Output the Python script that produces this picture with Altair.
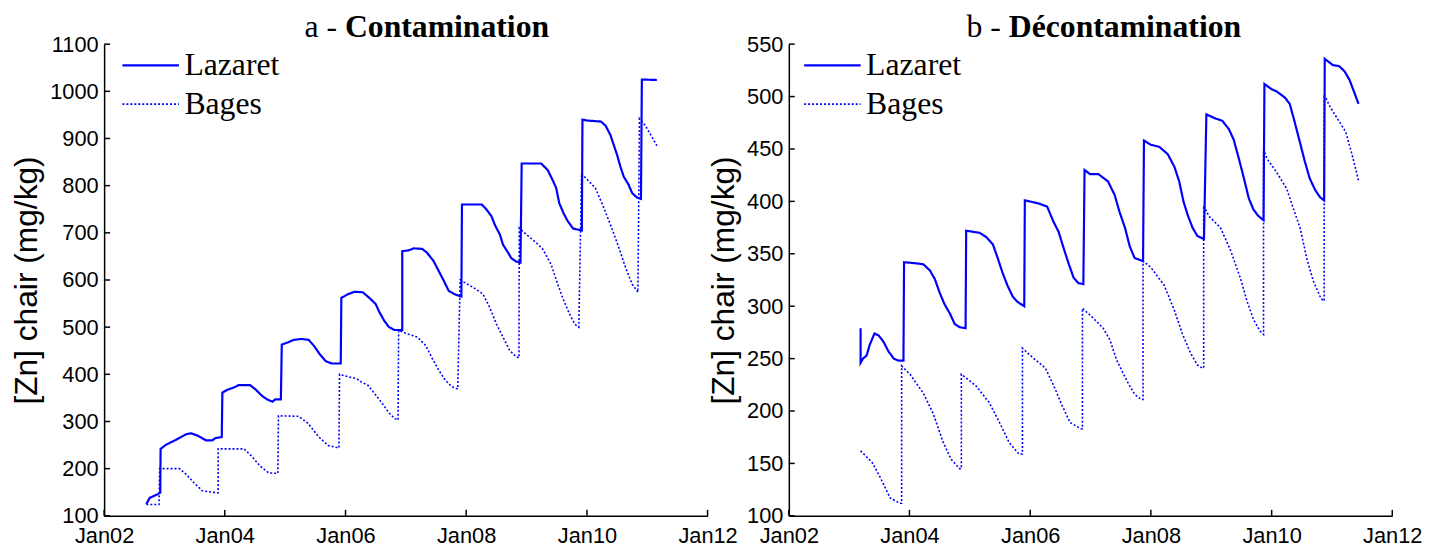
import altair as alt
import pandas as pd

# ---------------- data (decimal years, mg/kg) ----------------
series_names = ["Lazaret", "Bages"]
panel_prefix = ["a -", "b -"]
panel_bold = ["Contamination", "Décontamination"]
y_label = "[Zn] chair (mg/kg)"
x_tick_years = [2002, 2004, 2006, 2008, 2010, 2012]
y_ticks_a = [100, 200, 300, 400, 500, 600, 700, 800, 900, 1000, 1100]
y_ticks_b = [100, 150, 200, 250, 300, 350, 400, 450, 500, 550]

# Panel a - Contamination, Lazaret
lz_a_t = [2002.70, 2002.755, 2002.89, 2002.93, 2002.936, 2003.03, 2003.19, 2003.36, 2003.44,
          2003.55, 2003.69, 2003.79, 2003.85, 2003.95, 2003.96, 2004.04, 2004.15, 2004.23,
          2004.42, 2004.51, 2004.62, 2004.70, 2004.79, 2004.84, 2004.93, 2004.945, 2005.05,
          2005.14, 2005.27, 2005.39, 2005.49, 2005.57, 2005.67, 2005.77, 2005.92, 2005.93,
          2006.04, 2006.15, 2006.285, 2006.395, 2006.50, 2006.56, 2006.64, 2006.72, 2006.81,
          2006.94, 2006.94, 2007.05, 2007.13, 2007.27, 2007.35, 2007.46, 2007.545, 2007.63,
          2007.71, 2007.82, 2007.92, 2007.93, 2008.26, 2008.34, 2008.42, 2008.475, 2008.56,
          2008.61, 2008.695, 2008.75, 2008.83, 2008.90, 2008.92, 2009.24, 2009.35, 2009.43,
          2009.49, 2009.54, 2009.61, 2009.68, 2009.77, 2009.915, 2009.925, 2010.01, 2010.23,
          2010.31, 2010.39, 2010.445, 2010.50, 2010.555, 2010.61, 2010.69, 2010.75, 2010.83,
          2010.895, 2010.91, 2011.16]
lz_a_v = [125, 138, 146, 149, 242, 251, 261, 273, 275,
          270, 260, 260, 265, 267, 361, 367, 372, 377,
          377, 368, 354, 347, 342, 347, 347, 463, 468,
          473, 475, 473, 458, 443, 428, 423, 423, 562,
          570, 575, 574, 562, 549, 532, 514, 500, 494,
          494, 661, 663, 667, 666, 658, 640, 619, 598,
          577, 569, 565, 760, 760, 749, 735, 717, 696,
          675, 658, 646, 639, 637, 847, 847, 833, 812,
          795, 763, 742, 725, 709, 705, 940, 938, 936,
          927, 907, 886, 865, 840, 819, 802, 784, 775,
          772, 1025, 1024]

# Panel a - Contamination, Bages
bg_a_t = [2002.70, 2002.91, 2002.92, 2003.25, 2003.36, 2003.49, 2003.63, 2003.85, 2003.89,
          2003.89, 2004.32, 2004.45, 2004.59, 2004.73, 2004.88, 2004.89, 2005.22, 2005.38,
          2005.55, 2005.71, 2005.89, 2005.90, 2006.04, 2006.18, 2006.26, 2006.37, 2006.50,
          2006.61, 2006.72, 2006.82, 2006.87, 2006.88, 2007.02, 2007.19, 2007.33, 2007.44,
          2007.545, 2007.65, 2007.76, 2007.86, 2007.90, 2008.12, 2008.28, 2008.39, 2008.50,
          2008.61, 2008.72, 2008.83, 2008.875, 2008.88, 2009.00, 2009.16, 2009.27, 2009.405,
          2009.515, 2009.61, 2009.71, 2009.80, 2009.865, 2009.91, 2009.98, 2010.14, 2010.28,
          2010.42, 2010.53, 2010.64, 2010.75, 2010.845, 2010.87, 2010.97, 2011.16]
bg_a_v = [124, 124, 200, 200, 188, 170, 153, 149, 149,
          242, 242, 226, 205, 191, 190, 312, 311, 296,
          268, 249, 244, 400, 395, 391, 384, 377, 356,
          338, 318, 306, 303, 493, 486, 479, 461, 433,
          409, 388, 374, 369, 600, 584, 570, 542, 507,
          479, 451, 437, 435, 710, 696, 679, 665, 633,
          591, 558, 528, 506, 500, 826, 816, 795, 753,
          707, 668, 626, 591, 574, 942, 927, 885]

# Panel b - Decontamination, Lazaret
lz_b_t = [2003.19, 2003.19, 2003.23, 2003.29, 2003.34, 2003.42, 2003.49, 2003.57, 2003.65,
          2003.74, 2003.82, 2003.90, 2003.91, 2004.09, 2004.23, 2004.34, 2004.42, 2004.50,
          2004.58, 2004.67, 2004.75, 2004.83, 2004.93, 2004.94, 2005.16, 2005.27, 2005.38,
          2005.46, 2005.54, 2005.62, 2005.71, 2005.79, 2005.90, 2005.91, 2006.14, 2006.28,
          2006.39, 2006.47, 2006.55, 2006.64, 2006.72, 2006.80, 2006.88, 2006.90, 2006.99,
          2007.13, 2007.29, 2007.40, 2007.48, 2007.57, 2007.65, 2007.73, 2007.87, 2007.885,
          2008.00, 2008.14, 2008.28, 2008.39, 2008.47, 2008.54, 2008.61, 2008.69, 2008.77,
          2008.88, 2008.92, 2009.07, 2009.18, 2009.29, 2009.37, 2009.455, 2009.54, 2009.62,
          2009.70, 2009.78, 2009.865, 2009.88, 2010.00, 2010.08, 2010.22, 2010.30, 2010.385,
          2010.47, 2010.55, 2010.63, 2010.72, 2010.80, 2010.87, 2010.88, 2011.015, 2011.12,
          2011.21, 2011.29, 2011.37, 2011.44]
lz_b_v = [279, 246, 250, 253, 263, 274, 272, 266, 257,
          250, 248, 248, 342, 341, 340, 334, 326, 313,
          302, 293, 283, 280, 279, 372, 370, 366, 359,
          346, 332, 320, 309, 304, 300, 401, 398, 395,
          380, 371, 356, 340, 327, 322, 321, 430, 426,
          426, 419, 406, 390, 375, 357, 346, 343, 458,
          454, 452, 445, 433, 419, 400, 387, 375, 367,
          364, 483, 479, 477, 469, 459, 441, 422, 403,
          392, 386, 382, 512, 507, 505, 499, 493, 475,
          456, 438, 422, 411, 404, 401, 536, 530, 529,
          524, 516, 504, 493]

# Panel b - Decontamination, Bages
bg_b_t = [2003.19, 2003.38, 2003.52, 2003.68, 2003.84, 2003.87, 2003.87, 2004.01, 2004.23,
          2004.39, 2004.56, 2004.69, 2004.83, 2004.86, 2004.86, 2005.10, 2005.32, 2005.49,
          2005.65, 2005.81, 2005.87, 2005.87, 2005.98, 2006.25, 2006.39, 2006.53, 2006.66,
          2006.84, 2006.865, 2006.865, 2007.02, 2007.21, 2007.32, 2007.43, 2007.54, 2007.62,
          2007.73, 2007.84, 2007.87, 2007.87, 2008.00, 2008.22, 2008.39, 2008.52, 2008.66,
          2008.77, 2008.85, 2008.875, 2008.875, 2008.96, 2009.15, 2009.32, 2009.48, 2009.59,
          2009.70, 2009.81, 2009.865, 2009.865, 2009.92, 2010.08, 2010.25, 2010.36, 2010.47,
          2010.58, 2010.69, 2010.82, 2010.87, 2010.87, 2010.96, 2011.10, 2011.23, 2011.345,
          2011.44]
bg_b_v = [162, 151, 136, 117, 112, 112, 243, 235, 217,
          198, 170, 154, 145, 145, 235, 224, 208, 189,
          170, 159, 159, 260, 254, 241, 224, 205, 189,
          183, 183, 298, 290, 279, 268, 249, 236, 227,
          216, 211, 211, 343, 337, 320, 296, 274, 255,
          244, 241, 241, 396, 386, 375, 353, 327, 305,
          287, 276, 273, 450, 441, 428, 412, 393, 375,
          346, 324, 307, 305, 502, 491, 478, 466, 442,
          420]

# ---------------- chart ----------------
W, H = 609, 476
BLUE = "#0000ff"


def dec_to_ts(t):
    y = int(t)
    return pd.Timestamp(year=y, month=1, day=1) + pd.Timedelta(days=(t - y) * 365.25)


def frame(lz_t, lz_v, bg_t, bg_v):
    rows = []
    for name, ts, vs in ((series_names[0], lz_t, lz_v), (series_names[1], bg_t, bg_v)):
        for i, (t, v) in enumerate(zip(ts, vs)):
            rows.append({"date": dec_to_ts(t), "value": v, "series": name, "idx": i})
    return pd.DataFrame(rows)


def panel(df, yticks, prefix, bold, prefix_right, bold_left, legend_x):
    xscale = alt.Scale(domain=[alt.DateTime(year=2002, month=1, date=1),
                               alt.DateTime(year=2012, month=1, date=1)], nice=False)
    yscale = alt.Scale(domain=[yticks[0], yticks[-1]], nice=False, zero=False)
    xvals = [alt.DateTime(year=y, month=1, date=1) for y in x_tick_years]
    xaxis = alt.Axis(values=xvals, format="%b%y", title=None, labelFlush=False,
                     labelPadding=10)
    yaxis = alt.Axis(values=yticks, format="d", title=y_label)

    lines = alt.Chart(df).mark_line(color=BLUE, clip=False).encode(
        x=alt.X("date:T", scale=xscale, axis=xaxis),
        y=alt.Y("value:Q", scale=yscale, axis=yaxis),
        strokeDash=alt.StrokeDash(
            "series:N",
            scale=alt.Scale(domain=series_names, range=[[1, 0], [2, 2]]),
            legend=alt.Legend(orient="none", legendX=legend_x, legendY=2, title=None,
                              symbolType="stroke", symbolSize=3249, symbolStrokeWidth=2,
                              symbolStrokeColor=BLUE, labelFont="Liberation Serif",
                              labelFontSize=32, labelColor="black", labelOffset=4,
                              clipHeight=39, rowPadding=0, padding=0, labelLimit=400),
        ),
        strokeWidth=alt.StrokeWidth("series:N",
                                    scale=alt.Scale(domain=series_names, range=[2.2, 1.6]),
                                    legend=None),
        order=alt.Order("idx:Q"),
    )

    ytick_df = pd.DataFrame({"value": yticks})
    ytk = alt.Chart(ytick_df).mark_rule(color="black", strokeWidth=1.5).encode(
        y=alt.Y("value:Q", scale=yscale, axis=yaxis),
        x=alt.value(0), x2=alt.value(6))

    xtick_df = pd.DataFrame({"date": [pd.Timestamp(year=y, month=1, day=1) for y in x_tick_years]})
    xtk = alt.Chart(xtick_df).mark_rule(color="black", strokeWidth=1.5).encode(
        x=alt.X("date:T", scale=xscale, axis=xaxis),
        y=alt.value(H), y2=alt.value(H - 6))

    t1 = alt.Chart(pd.DataFrame({"s": [prefix]})).mark_text(
        font="Liberation Serif", fontSize=32, align="right", baseline="alphabetic",
        color="black").encode(text="s:N", x=alt.value(prefix_right), y=alt.value(-7))
    t2 = alt.Chart(pd.DataFrame({"s": [bold]})).mark_text(
        font="Liberation Serif", fontSize=32, fontWeight="bold", align="left",
        baseline="alphabetic", color="black").encode(
        text="s:N", x=alt.value(bold_left), y=alt.value(-7))

    return alt.layer(lines, ytk, xtk, t1, t2).properties(width=W, height=H)


left = panel(frame(lz_a_t, lz_a_v, bg_a_t, bg_a_v), y_ticks_a,
             panel_prefix[0], panel_bold[0], 235, 243, 17)
right = panel(frame(lz_b_t, lz_b_v, bg_b_t, bg_b_v), y_ticks_b,
              panel_prefix[1], panel_bold[1], 214, 222, 14)

chart = alt.hconcat(left, right, spacing=82, bounds="flush").resolve_scale(
    x="independent", y="independent", strokeDash="independent", strokeWidth="independent"
).resolve_legend(strokeDash="independent").properties(
    padding={"left": 3, "top": 1, "right": 0, "bottom": 0}
).configure_view(stroke=None).configure_axis(
    domainColor="black", domainWidth=1.5, ticks=False, grid=False,
    labelFont="Liberation Sans", labelFontSize=22, labelColor="black", labelPadding=6,
    titleFont="Liberation Sans", titleFontSize=32, titleFontWeight="normal",
    titleColor="black", titlePadding=6,
)

chart.save("out.html", embed_options={"renderer": "svg", "actions": False})
